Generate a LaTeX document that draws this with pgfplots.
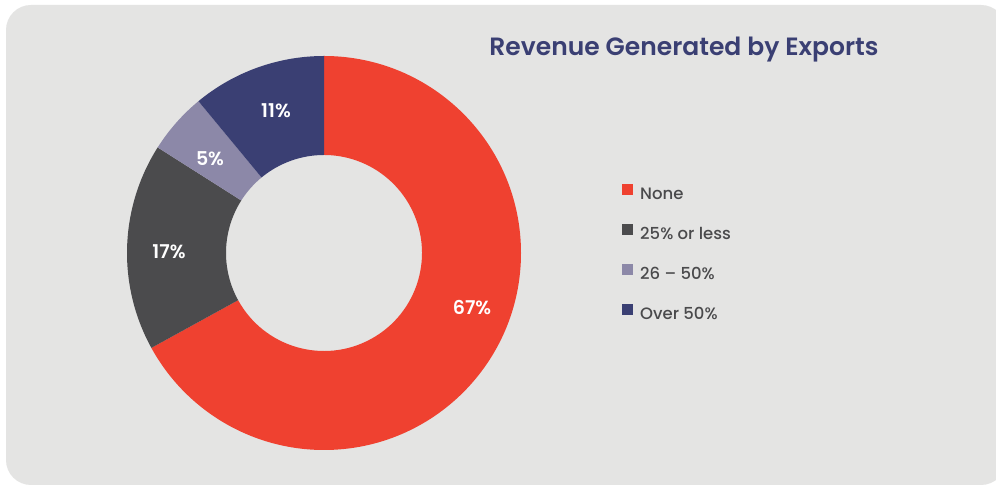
\documentclass[border=0pt]{standalone}
\usepackage{pgfplots}
\pgfplotsset{compat=1.18}
\usepackage{fontspec}
\setmainfont{Poppins}
\newfontfamily\medfont{Poppins Medium}
\newfontfamily\semifont{Poppins SemiBold}

\definecolor{cRed}{HTML}{EF4130}
\definecolor{cGray}{HTML}{4B4B4D}
\definecolor{cLav}{HTML}{8C88A8}
\definecolor{cNavy}{HTML}{3A3F73}
\definecolor{cBg}{HTML}{E4E4E3}
\definecolor{cText}{HTML}{4A4A4C}

\begin{document}
\begin{tikzpicture}
\begin{axis}[
    x=1pt, y=1pt,
    xmin=0, xmax=996, ymin=0, ymax=486,
    hide axis,
    clip=true,
    legend image code/.code={\fill[#1, draw=none] (0pt,0pt) rectangle (11pt,11pt);},
    legend cell align=left,
    legend style={at={(axis cs:622,302)}, anchor=north west,
        draw=none, fill=none, inner sep=0pt,
        font=\medfont\fontsize{16.5}{16.5}\selectfont, text=cText,
        row sep=21pt, column sep=7pt,
        nodes={inner sep=0pt, text height=12pt, text depth=4pt}},
]
% page and card
\fill[white] (axis cs:0,0) rectangle (axis cs:996,486);
\fill[cBg, rounded corners=25pt] (axis cs:6,1) rectangle (axis cs:1006,481);

% donut slices: share in percent, clockwise from the top
\gdef\curang{90}
\foreach \v/\c in {67/cRed, 17/cGray, 5/cLav, 11/cNavy}{
    \pgfmathsetmacro\endang{\curang-3.6*\v}
    \edef\tmp{\noexpand\fill[\c]
        ([shift={(\curang:197pt)}]axis cs:324,233)
        arc[start angle=\curang, end angle=\endang, radius=197pt]
        -- ([shift={(\endang:98pt)}]axis cs:324,233)
        arc[start angle=\endang, end angle=\curang, radius=98pt] -- cycle;}
    \tmp
    \xdef\curang{\endang}
}

% slice labels
\begin{scope}[every node/.style={text=white, anchor=base, font=\semifont\fontsize{19}{19}\selectfont}]
\node at (axis cs:472,171) {67\%};
\node at (axis cs:169,227) {17\%};
\node at (axis cs:210,320) {5\%};
\node at (axis cs:276,368) {11\%};
\end{scope}

% title
\node[text=cNavy, anchor=base, font=\semifont\fontsize{25}{25}\selectfont]
    at (axis cs:684,430) {Revenue Generated by Exports};

\addlegendimage{fill=cRed}
\addlegendentry{None}
\addlegendimage{fill=cGray}
\addlegendentry{25\% or less}
\addlegendimage{fill=cLav}
\addlegendentry{26 – 50\%}
\addlegendimage{fill=cNavy}
\addlegendentry{Over 50\%}
\end{axis}
\end{tikzpicture}
\end{document}
